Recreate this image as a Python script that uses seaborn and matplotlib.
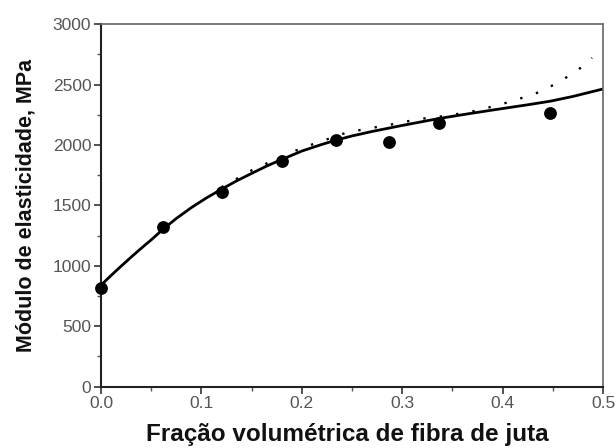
import matplotlib
matplotlib.use("Agg")
import matplotlib.pyplot as plt
import seaborn as sns
import pandas as pd
from matplotlib.ticker import MultipleLocator

# Experimental points
exp_x = [0.0, 0.062, 0.120, 0.180, 0.234, 0.287, 0.337, 0.447]
exp_y = [820, 1318, 1610, 1870, 2038, 2022, 2182, 2265]

# Solid model curve
fit_x = [0.0, 0.01, 0.02, 0.03, 0.04, 0.05, 0.062, 0.075, 0.09, 0.105, 0.12,
         0.135, 0.15, 0.165, 0.18, 0.20, 0.22, 0.234, 0.25, 0.27, 0.30, 0.337,
         0.37, 0.40, 0.425, 0.447, 0.47, 0.50]
fit_y = [840, 920, 997, 1072, 1145, 1215, 1305, 1392, 1482, 1562, 1634,
         1703, 1765, 1826, 1880, 1950, 2005, 2040, 2075, 2112, 2162, 2220,
         2264, 2302, 2333, 2362, 2402, 2464]

# Dotted model curve
dot_x = [0.12, 0.15, 0.18, 0.20, 0.245, 0.26, 0.288, 0.317, 0.345, 0.374,
         0.403, 0.417, 0.432, 0.446, 0.46, 0.475, 0.489]
dot_y = [1650, 1790, 1905, 1975, 2104, 2127, 2168, 2215, 2243, 2284,
         2348, 2384, 2423, 2477, 2541, 2621, 2721]

x_ticks = [0.0, 0.1, 0.2, 0.3, 0.4, 0.5]
x_tick_labels = ["0.0", "0.1", "0.2", "0.3", "0.4", "0.5"]
y_ticks = [0, 500, 1000, 1500, 2000, 2500, 3000]

sns.set_theme(style="ticks")
plt.rcParams['font.family'] = ['Liberation Sans', 'DejaVu Sans']

fig = plt.figure(figsize=(6.16, 4.48), dpi=100)
ax = fig.add_axes([0.164, 0.137, 0.815, 0.809])

df_exp = pd.DataFrame({"x": exp_x, "y": exp_y})
df_fit = pd.DataFrame({"x": fit_x, "y": fit_y})
df_dot = pd.DataFrame({"x": dot_x, "y": dot_y})

sns.lineplot(data=df_dot, x="x", y="y", ax=ax, color="black", linewidth=1.7,
             sort=False)
ax.lines[-1].set_dashes([1, 6.0])
sns.lineplot(data=df_fit, x="x", y="y", ax=ax, color="black", linewidth=2.0,
             sort=False)
sns.scatterplot(data=df_exp, x="x", y="y", ax=ax, color="black", s=85,
                edgecolor="black", linewidth=0, zorder=5, clip_on=False)

ax.set_xlim(0, 0.5)
ax.set_ylim(0, 3000)
ax.set_xticks(x_ticks)
ax.set_xticklabels(x_tick_labels)
ax.set_yticks(y_ticks)
ax.xaxis.set_minor_locator(MultipleLocator(0.05))
ax.yaxis.set_minor_locator(MultipleLocator(250))

ax.tick_params(axis="both", which="major", direction="out", length=5, width=1.2,
               color="#333333", labelsize=12.5, labelcolor="#555555", pad=2,
               top=False, right=False)
ax.tick_params(axis="both", which="minor", direction="out", length=3, width=1.0,
               color="#555555", top=False, right=False)

for side in ["left", "bottom"]:
    ax.spines[side].set_color("#222222")
    ax.spines[side].set_linewidth(1.5)
for side in ["top", "right"]:
    ax.spines[side].set_visible(True)
    ax.spines[side].set_color("#666666")
    ax.spines[side].set_linewidth(1.2)

ax.set_xlabel("Fração volumétrica de fibra de juta", fontsize=17.5, fontweight="bold",
              color="#111111")
ax.set_ylabel("Módulo de elasticidade, MPa", fontsize=15.5, fontweight="bold",
              color="#111111")
ax.xaxis.set_label_coords(0.49, -0.1)
ax.yaxis.set_label_coords(-0.128, 0.5)

fig.savefig("out.png", dpi=100, facecolor="white")
